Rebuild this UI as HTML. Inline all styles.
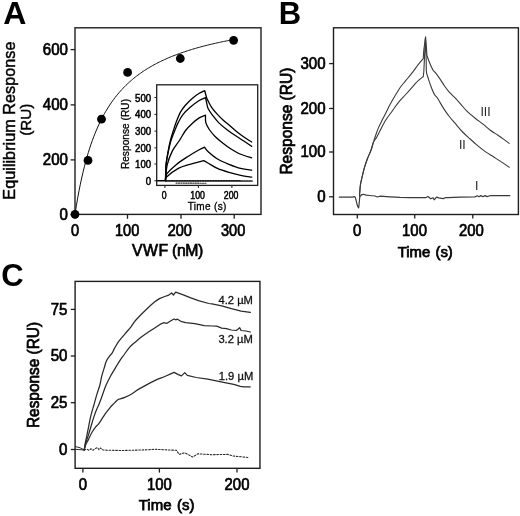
<!DOCTYPE html>
<html><head><meta charset="utf-8"><style>
html,body{margin:0;padding:0;background:#fff;width:520px;height:516px;overflow:hidden}
svg{display:block;filter:blur(0.3px)}
text{font-family:"Liberation Sans", sans-serif}
</style></head><body>
<svg width="520" height="516" viewBox="0 0 520 516">
<rect width="520" height="516" fill="#fff"/>
<text x="3.2" y="23.8" font-size="32" font-weight="bold" text-anchor="start" fill="#000">A</text>
<rect x="75" y="27.8" width="186" height="186.6" fill="none" stroke="#1e1e1e" stroke-width="1.4"/>
<line x1="70.6" y1="214.70000000000002" x2="75" y2="214.70000000000002" stroke="#1e1e1e" stroke-width="1.3"/>
<text transform="translate(67.9 219.9) scale(0.93 1)" font-size="16.2" font-weight="normal" text-anchor="end" fill="#000" stroke="#000" stroke-width="0.7">0</text>
<line x1="70.6" y1="159.9" x2="75" y2="159.9" stroke="#1e1e1e" stroke-width="1.3"/>
<text transform="translate(67.9 165.1) scale(0.93 1)" font-size="16.2" font-weight="normal" text-anchor="end" fill="#000" stroke="#000" stroke-width="0.7">200</text>
<line x1="70.6" y1="104.9" x2="75" y2="104.9" stroke="#1e1e1e" stroke-width="1.3"/>
<text transform="translate(67.9 110.1) scale(0.93 1)" font-size="16.2" font-weight="normal" text-anchor="end" fill="#000" stroke="#000" stroke-width="0.7">400</text>
<line x1="70.6" y1="49.6" x2="75" y2="49.6" stroke="#1e1e1e" stroke-width="1.3"/>
<text transform="translate(67.9 54.800000000000004) scale(0.93 1)" font-size="16.2" font-weight="normal" text-anchor="end" fill="#000" stroke="#000" stroke-width="0.7">600</text>
<line x1="75" y1="214.4" x2="75" y2="218.8" stroke="#1e1e1e" stroke-width="1.3"/>
<text transform="translate(75 235.6) scale(0.91 1)" font-size="16.0" font-weight="normal" text-anchor="middle" fill="#000" stroke="#000" stroke-width="0.7">0</text>
<line x1="127.5" y1="214.4" x2="127.5" y2="218.8" stroke="#1e1e1e" stroke-width="1.3"/>
<text transform="translate(127.1 235.6) scale(0.91 1)" font-size="16.0" font-weight="normal" text-anchor="middle" fill="#000" stroke="#000" stroke-width="0.7">100</text>
<line x1="181" y1="214.4" x2="181" y2="218.8" stroke="#1e1e1e" stroke-width="1.3"/>
<text transform="translate(179.8 235.6) scale(0.91 1)" font-size="16.0" font-weight="normal" text-anchor="middle" fill="#000" stroke="#000" stroke-width="0.7">200</text>
<line x1="234.2" y1="214.4" x2="234.2" y2="218.8" stroke="#1e1e1e" stroke-width="1.3"/>
<text transform="translate(233.1 235.6) scale(0.91 1)" font-size="16.0" font-weight="normal" text-anchor="middle" fill="#000" stroke="#000" stroke-width="0.7">300</text>
<text x="132.0" y="255.6" font-size="15.8" fill="#000" stroke="#000" stroke-width="0.7"><tspan letter-spacing="0.5">VWF</tspan><tspan dx="-0.5" letter-spacing="-0.4"> (nM)</tspan></text>
<text x="15.1" y="120.6" font-size="16.25" font-weight="normal" text-anchor="middle" fill="#000" transform="rotate(-90 15.1 120.6)" stroke="#000" stroke-width="0.45">Equilibrium Response</text>
<text x="30.6" y="119.8" font-size="15.2" font-weight="normal" text-anchor="middle" fill="#000" transform="rotate(-90 30.6 119.8)" stroke="#000" stroke-width="0.45">(RU)</text>
<path d="M75.00,214.30 L76.34,205.87 L77.68,198.10 L79.01,190.90 L80.35,184.21 L81.69,177.99 L83.03,172.19 L84.36,166.76 L85.70,161.67 L87.04,156.89 L88.38,152.39 L89.72,148.15 L91.05,144.14 L92.39,140.36 L93.73,136.77 L95.07,133.36 L96.41,130.13 L97.74,127.06 L99.08,124.13 L100.42,121.34 L101.76,118.67 L103.09,116.12 L104.43,113.69 L105.77,111.36 L107.11,109.12 L108.45,106.98 L109.78,104.92 L111.12,102.95 L112.46,101.05 L113.80,99.22 L115.13,97.46 L116.47,95.76 L117.81,94.13 L119.15,92.55 L120.49,91.03 L121.82,89.55 L123.16,88.13 L124.50,86.75 L125.84,85.42 L127.17,84.13 L128.51,82.88 L129.85,81.67 L131.19,80.50 L132.53,79.36 L133.86,78.26 L135.20,77.18 L136.54,76.14 L137.88,75.13 L139.22,74.14 L140.55,73.19 L141.89,72.25 L143.23,71.35 L144.57,70.46 L145.90,69.60 L147.24,68.77 L148.58,67.95 L149.92,67.15 L151.26,66.38 L152.59,65.62 L153.93,64.88 L155.27,64.16 L156.61,63.45 L157.94,62.76 L159.28,62.09 L160.62,61.43 L161.96,60.79 L163.30,60.16 L164.63,59.55 L165.97,58.95 L167.31,58.36 L168.65,57.78 L169.98,57.22 L171.32,56.67 L172.66,56.13 L174.00,55.60 L175.34,55.08 L176.67,54.57 L178.01,54.07 L179.35,53.59 L180.69,53.11 L182.03,52.64 L183.36,52.18 L184.70,51.72 L186.04,51.28 L187.38,50.84 L188.71,50.42 L190.05,50.00 L191.39,49.59 L192.73,49.18 L194.07,48.78 L195.40,48.39 L196.74,48.01 L198.08,47.63 L199.42,47.26 L200.75,46.90 L202.09,46.54 L203.43,46.19 L204.77,45.84 L206.11,45.50 L207.44,45.17 L208.78,44.84 L210.12,44.51 L211.46,44.19 L212.79,43.88 L214.13,43.57 L215.47,43.26 L216.81,42.96 L218.15,42.67 L219.48,42.38 L220.82,42.09 L222.16,41.81 L223.50,41.53 L224.84,41.26 L226.17,40.99 L227.51,40.72 L228.85,40.46 L230.19,40.20 L231.52,39.95 L232.86,39.69 L234.20,39.45" fill="none" stroke="#111" stroke-width="1.0" stroke-linejoin="round" stroke-linecap="round"/>
<circle cx="75" cy="214.3" r="4.4" fill="#000"/>
<circle cx="88" cy="160.4" r="4.4" fill="#000"/>
<circle cx="101.5" cy="119.2" r="4.4" fill="#000"/>
<circle cx="127.6" cy="72.4" r="4.4" fill="#000"/>
<circle cx="180.3" cy="58.5" r="4.4" fill="#000"/>
<circle cx="233.6" cy="40.3" r="4.4" fill="#000"/>
<rect x="156.7" y="84.8" width="101.0" height="100.6" fill="#fff" stroke="#1e1e1e" stroke-width="1.3"/>
<line x1="154.4" y1="180.8" x2="156.7" y2="180.8" stroke="#1e1e1e" stroke-width="1.0"/>
<text transform="translate(151.2 184.8) scale(0.93 1)" font-size="10.4" font-weight="normal" text-anchor="end" fill="#000" stroke="#000" stroke-width="0.5">0</text>
<line x1="154.4" y1="164" x2="156.7" y2="164" stroke="#1e1e1e" stroke-width="1.0"/>
<text transform="translate(151.2 168.0) scale(0.93 1)" font-size="10.4" font-weight="normal" text-anchor="end" fill="#000" stroke="#000" stroke-width="0.5">100</text>
<line x1="154.4" y1="147.9" x2="156.7" y2="147.9" stroke="#1e1e1e" stroke-width="1.0"/>
<text transform="translate(151.2 151.9) scale(0.93 1)" font-size="10.4" font-weight="normal" text-anchor="end" fill="#000" stroke="#000" stroke-width="0.5">200</text>
<line x1="154.4" y1="131.1" x2="156.7" y2="131.1" stroke="#1e1e1e" stroke-width="1.0"/>
<text transform="translate(151.2 135.1) scale(0.93 1)" font-size="10.4" font-weight="normal" text-anchor="end" fill="#000" stroke="#000" stroke-width="0.5">300</text>
<line x1="154.4" y1="114.4" x2="156.7" y2="114.4" stroke="#1e1e1e" stroke-width="1.0"/>
<text transform="translate(151.2 118.4) scale(0.93 1)" font-size="10.4" font-weight="normal" text-anchor="end" fill="#000" stroke="#000" stroke-width="0.5">400</text>
<line x1="154.4" y1="97.5" x2="156.7" y2="97.5" stroke="#1e1e1e" stroke-width="1.0"/>
<text transform="translate(151.2 101.5) scale(0.93 1)" font-size="10.4" font-weight="normal" text-anchor="end" fill="#000" stroke="#000" stroke-width="0.5">500</text>
<line x1="164.9" y1="185.4" x2="164.9" y2="188" stroke="#1e1e1e" stroke-width="1.0"/>
<text transform="translate(164.1 198.8) scale(0.86 1)" font-size="10.2" font-weight="normal" text-anchor="middle" fill="#000" stroke="#000" stroke-width="0.5">0</text>
<line x1="198.4" y1="185.4" x2="198.4" y2="188" stroke="#1e1e1e" stroke-width="1.0"/>
<text transform="translate(197.6 198.8) scale(0.86 1)" font-size="10.2" font-weight="normal" text-anchor="middle" fill="#000" stroke="#000" stroke-width="0.5">100</text>
<line x1="231.9" y1="185.4" x2="231.9" y2="188" stroke="#1e1e1e" stroke-width="1.0"/>
<text transform="translate(231.1 198.8) scale(0.86 1)" font-size="10.2" font-weight="normal" text-anchor="middle" fill="#000" stroke="#000" stroke-width="0.5">200</text>
<text x="207.2" y="209.8" font-size="10" font-weight="normal" text-anchor="middle" fill="#000" stroke="#000" stroke-width="0.3" letter-spacing="0.35">Time (s)</text>
<text x="128.6" y="134.0" font-size="10" font-weight="normal" text-anchor="middle" fill="#000" transform="rotate(-90 128.6 134.0)" stroke="#000" stroke-width="0.3" letter-spacing="0.1">Response (RU)</text>
<path d="M165.50,180.50 C165.58,177.90 165.62,169.43 166.00,164.90 C166.38,160.37 167.12,157.18 167.80,153.30 C168.48,149.42 169.17,145.40 170.10,141.60 C171.03,137.80 172.33,133.90 173.40,130.50 C174.47,127.10 175.30,124.30 176.50,121.20 C177.70,118.10 179.15,114.52 180.60,111.90 C182.05,109.28 183.27,107.73 185.20,105.50 C187.13,103.27 189.87,100.53 192.20,98.50 C194.53,96.47 197.12,94.62 199.20,93.30 C201.28,91.98 203.78,91.05 204.70,90.60 L204.70,90.60 C205.02,91.77 206.12,96.05 206.60,97.60 C207.08,99.15 206.77,98.27 207.60,99.90 C208.43,101.53 209.97,104.98 211.60,107.40 C213.23,109.82 215.45,112.27 217.40,114.40 C219.35,116.53 221.17,118.27 223.30,120.20 C225.43,122.13 227.68,123.87 230.20,126.00 C232.72,128.13 235.68,130.87 238.40,133.00 C241.12,135.13 244.28,137.30 246.50,138.80 C248.72,140.30 250.83,141.47 251.70,142.00" fill="none" stroke="#000" stroke-width="1.3" stroke-linejoin="round" stroke-linecap="round"/>
<path d="M165.50,180.50 C165.60,177.92 165.70,169.50 166.10,165.00 C166.50,160.50 167.13,157.42 167.90,153.50 C168.67,149.58 169.55,145.33 170.70,141.50 C171.85,137.67 173.53,133.68 174.80,130.50 C176.07,127.32 176.95,125.05 178.30,122.40 C179.65,119.75 180.97,117.08 182.90,114.60 C184.83,112.12 187.18,109.85 189.90,107.50 C192.62,105.15 196.60,102.15 199.20,100.50 C201.80,98.85 204.45,98.08 205.50,97.60 L205.50,97.60 C205.65,98.25 205.97,99.67 206.40,101.50 C206.83,103.33 207.03,106.25 208.10,108.60 C209.17,110.95 211.05,113.27 212.80,115.60 C214.55,117.93 216.28,120.28 218.60,122.60 C220.92,124.92 223.98,127.38 226.70,129.50 C229.42,131.62 231.98,133.35 234.90,135.30 C237.82,137.25 241.40,139.35 244.20,141.20 C247.00,143.05 250.45,145.53 251.70,146.40" fill="none" stroke="#000" stroke-width="1.3" stroke-linejoin="round" stroke-linecap="round"/>
<path d="M165.50,180.50 C165.78,177.90 166.05,169.83 167.20,164.90 C168.35,159.97 170.37,154.97 172.40,150.90 C174.43,146.83 177.20,143.90 179.40,140.50 C181.60,137.10 183.47,133.33 185.60,130.50 C187.73,127.67 189.93,125.60 192.20,123.50 C194.47,121.40 196.98,119.28 199.20,117.90 C201.42,116.52 204.45,115.65 205.50,115.20 L205.50,115.20 C205.55,116.43 205.17,120.22 205.80,122.60 C206.43,124.98 207.75,127.18 209.30,129.50 C210.85,131.82 212.77,134.17 215.10,136.50 C217.43,138.83 220.58,141.37 223.30,143.50 C226.02,145.63 228.62,147.55 231.40,149.30 C234.18,151.05 236.62,152.57 240.00,154.00 C243.38,155.43 249.75,157.25 251.70,157.90" fill="none" stroke="#000" stroke-width="1.3" stroke-linejoin="round" stroke-linecap="round"/>
<path d="M165.50,180.50 C165.68,179.45 164.87,176.80 166.60,174.20 C168.33,171.60 172.40,167.82 175.90,164.90 C179.40,161.98 183.72,159.22 187.60,156.70 C191.48,154.18 196.38,151.38 199.20,149.80 C202.02,148.22 203.62,147.63 204.50,147.20 L204.50,147.20 C205.17,148.02 206.35,150.13 208.50,152.10 C210.65,154.07 213.98,156.97 217.40,159.00 C220.82,161.03 225.12,162.73 229.00,164.30 C232.88,165.87 236.92,167.43 240.70,168.40 C244.48,169.37 249.87,169.82 251.70,170.10" fill="none" stroke="#000" stroke-width="1.3" stroke-linejoin="round" stroke-linecap="round"/>
<path d="M165.50,180.50 C165.68,179.92 164.47,179.02 166.60,177.00 C168.73,174.98 174.42,170.52 178.30,168.40 C182.18,166.28 185.65,165.60 189.90,164.30 C194.15,163.00 201.48,161.22 203.80,160.60 L203.80,160.60 C204.55,161.03 206.03,161.90 208.30,163.20 C210.57,164.50 213.95,166.87 217.40,168.40 C220.85,169.93 225.12,171.25 229.00,172.40 C232.88,173.55 236.92,174.52 240.70,175.30 C244.48,176.08 249.87,176.80 251.70,177.10" fill="none" stroke="#000" stroke-width="1.3" stroke-linejoin="round" stroke-linecap="round"/>
<path d="M157.50,180.70 L166.00,180.70" fill="none" stroke="#000" stroke-width="1.6" stroke-linejoin="round" stroke-linecap="round"/>
<path d="M166.00,180.80 L252.00,181.00" fill="none" stroke="#1a1a1a" stroke-width="1.7" stroke-linejoin="round" stroke-linecap="round" stroke-dasharray="1.4 1.2" stroke-linecap="butt"/>
<path d="M176.00,183.10 L207.00,183.20" fill="none" stroke="#333" stroke-width="1.1" stroke-linejoin="round" stroke-linecap="round" stroke-dasharray="1.2 1.2"/>
<text x="278.8" y="23.6" font-size="31" font-weight="bold" text-anchor="start" fill="#000">B</text>
<rect x="333.5" y="27.8" width="184.89999999999998" height="186.7" fill="none" stroke="#1e1e1e" stroke-width="1.4"/>
<line x1="329.1" y1="196.8" x2="333.5" y2="196.8" stroke="#1e1e1e" stroke-width="1.3"/>
<text transform="translate(325.6 202.0) scale(0.93 1)" font-size="16.2" font-weight="normal" text-anchor="end" fill="#000" stroke="#000" stroke-width="0.7">0</text>
<line x1="329.1" y1="152" x2="333.5" y2="152" stroke="#1e1e1e" stroke-width="1.3"/>
<text transform="translate(325.6 157.2) scale(0.93 1)" font-size="16.2" font-weight="normal" text-anchor="end" fill="#000" stroke="#000" stroke-width="0.7">100</text>
<line x1="329.1" y1="108.5" x2="333.5" y2="108.5" stroke="#1e1e1e" stroke-width="1.3"/>
<text transform="translate(325.6 113.7) scale(0.93 1)" font-size="16.2" font-weight="normal" text-anchor="end" fill="#000" stroke="#000" stroke-width="0.7">200</text>
<line x1="329.1" y1="63.6" x2="333.5" y2="63.6" stroke="#1e1e1e" stroke-width="1.3"/>
<text transform="translate(325.6 68.8) scale(0.93 1)" font-size="16.2" font-weight="normal" text-anchor="end" fill="#000" stroke="#000" stroke-width="0.7">300</text>
<line x1="357.3" y1="214.5" x2="357.3" y2="218.6" stroke="#1e1e1e" stroke-width="1.3"/>
<text transform="translate(357.2 235.9) scale(0.93 1)" font-size="16.0" font-weight="normal" text-anchor="middle" fill="#000" stroke="#000" stroke-width="0.7">0</text>
<line x1="414.7" y1="214.5" x2="414.7" y2="218.6" stroke="#1e1e1e" stroke-width="1.3"/>
<text transform="translate(414.5 235.9) scale(0.93 1)" font-size="16.0" font-weight="normal" text-anchor="middle" fill="#000" stroke="#000" stroke-width="0.7">100</text>
<line x1="472.8" y1="214.5" x2="472.8" y2="218.6" stroke="#1e1e1e" stroke-width="1.3"/>
<text transform="translate(471.4 235.9) scale(0.93 1)" font-size="16.0" font-weight="normal" text-anchor="middle" fill="#000" stroke="#000" stroke-width="0.7">200</text>
<text x="425.3" y="256.8" font-size="14.9" font-weight="normal" text-anchor="middle" fill="#000" stroke="#000" stroke-width="0.75" word-spacing="1.0">Time (s)</text>
<text x="291.9" y="121.1" font-size="16" font-weight="normal" text-anchor="middle" fill="#000" transform="rotate(-90 291.9 121.1)" stroke="#000" stroke-width="0.75" textLength="107" lengthAdjust="spacingAndGlyphs">Response (RU)</text>
<path d="M339.30,197.20 L352.30,197.10 L354.50,196.60 L355.40,197.60 L357.60,206.30 L358.70,207.80 L359.40,201.00 L359.80,196.50 L361.80,194.70 L363.50,194.30 L366.10,195.10 L369.60,195.50 L374.80,196.00 L377.40,197.00 L380.00,196.20 L390.00,196.80 L400.00,197.40 L410.00,197.60 L425.60,197.70 L427.90,196.50 L430.80,198.80 L433.10,197.70 L434.20,199.80 L436.50,197.10 L438.80,197.90 L443.40,198.60 L445.70,197.50 L448.00,197.70 L460.00,197.20 L475.00,196.90 L477.30,195.80 L479.00,196.70 L481.00,195.60 L483.00,196.70 L485.00,195.60 L487.00,196.60 L490.00,195.70 L509.80,195.70" fill="none" stroke="#3a3a3a" stroke-width="1.2" stroke-linejoin="round" stroke-linecap="round"/>
<path d="M359.50,196.00 C359.65,194.18 359.98,188.20 360.40,185.10 C360.82,182.00 361.35,180.23 362.00,177.40 C362.65,174.57 363.40,171.20 364.30,168.10 C365.20,165.00 366.27,161.82 367.40,158.80 C368.53,155.78 370.08,152.80 371.10,150.00 C372.12,147.20 372.75,144.42 373.50,142.00 C374.25,139.58 374.75,137.93 375.60,135.50 C376.45,133.07 377.43,130.10 378.60,127.40 C379.77,124.70 381.25,122.00 382.60,119.30 C383.95,116.60 385.47,113.67 386.70,111.20 C387.93,108.73 388.65,106.98 390.00,104.50 C391.35,102.02 393.10,99.13 394.80,96.30 C396.50,93.47 398.38,90.10 400.20,87.50 C402.02,84.90 403.43,83.50 405.70,80.70 C407.97,77.90 411.75,73.35 413.80,70.70 C415.85,68.05 416.43,66.80 418.00,64.80 C419.57,62.80 422.33,59.72 423.20,58.70 L423.8,50 L425.6,36.8 L426.3,46 L427.00,55.80 C427.43,56.97 428.58,60.38 429.60,62.80 C430.62,65.22 432.03,68.55 433.10,70.30 C434.17,72.05 434.83,71.83 436.00,73.30 C437.17,74.77 438.65,76.95 440.10,79.10 C441.55,81.25 443.17,84.03 444.70,86.20 C446.23,88.37 447.57,90.15 449.30,92.10 C451.03,94.05 453.17,95.87 455.10,97.90 C457.03,99.93 459.02,102.18 460.90,104.30 C462.78,106.42 464.02,108.28 466.40,110.60 C468.78,112.92 472.48,115.98 475.20,118.20 C477.92,120.42 480.18,121.90 482.70,123.90 C485.22,125.90 487.77,128.32 490.30,130.20 C492.83,132.08 495.58,133.63 497.90,135.20 C500.22,136.77 502.32,138.23 504.20,139.60 C506.08,140.97 508.37,142.77 509.20,143.40" fill="none" stroke="#3a3a3a" stroke-width="1.1" stroke-linejoin="round" stroke-linecap="round"/>
<path d="M359.50,196.00 C359.65,194.18 359.98,188.20 360.40,185.10 C360.82,182.00 361.35,180.23 362.00,177.40 C362.65,174.57 363.40,171.20 364.30,168.10 C365.20,165.00 366.27,161.82 367.40,158.80 C368.53,155.78 370.08,152.80 371.10,150.00 C372.12,147.20 372.58,144.08 373.50,142.00 C374.42,139.92 375.53,139.33 376.60,137.50 C377.67,135.67 378.45,133.80 379.90,131.00 C381.35,128.20 383.27,124.00 385.30,120.70 C387.33,117.40 389.83,114.33 392.10,111.20 C394.37,108.07 396.63,104.68 398.90,101.90 C401.17,99.12 403.22,97.25 405.70,94.50 C408.18,91.75 411.75,87.68 413.80,85.40 C415.85,83.12 416.43,82.25 418.00,80.80 C419.57,79.35 422.33,77.38 423.20,76.70 L423.8,72 L425.4,38 L426.1,55 L426.30,70.00 C426.37,70.55 426.33,71.78 426.70,73.30 C427.07,74.82 427.82,76.98 428.50,79.10 C429.18,81.22 429.83,83.48 430.80,86.00 C431.77,88.52 433.23,92.25 434.30,94.20 C435.37,96.15 436.23,96.30 437.20,97.70 C438.17,99.10 438.85,100.53 440.10,102.60 C441.35,104.67 443.17,107.78 444.70,110.10 C446.23,112.42 447.58,114.32 449.30,116.50 C451.02,118.68 452.78,120.62 455.00,123.20 C457.22,125.78 460.07,129.37 462.60,132.00 C465.13,134.63 467.90,136.90 470.20,139.00 C472.50,141.10 473.88,142.50 476.40,144.60 C478.92,146.70 482.35,149.50 485.30,151.60 C488.25,153.70 491.17,155.32 494.10,157.20 C497.03,159.08 500.38,161.22 502.90,162.90 C505.42,164.58 508.15,166.57 509.20,167.30" fill="none" stroke="#3a3a3a" stroke-width="1.1" stroke-linejoin="round" stroke-linecap="round"/>
<text x="485.5" y="115.8" font-size="12.3" font-weight="normal" text-anchor="middle" fill="#222">III</text>
<text x="462.3" y="148.8" font-size="12.3" font-weight="normal" text-anchor="middle" fill="#222">II</text>
<text x="476.8" y="190.3" font-size="12.3" font-weight="normal" text-anchor="middle" fill="#222">I</text>
<text x="1.3" y="286.3" font-size="31" font-weight="bold" text-anchor="start" fill="#000">C</text>
<rect x="75.1" y="281.4" width="184.85" height="186.90000000000003" fill="none" stroke="#1e1e1e" stroke-width="1.4"/>
<line x1="70.8" y1="449.5" x2="75.1" y2="449.5" stroke="#1e1e1e" stroke-width="1.3"/>
<text transform="translate(67.5 454.7) scale(0.93 1)" font-size="16.2" font-weight="normal" text-anchor="end" fill="#000" stroke="#000" stroke-width="0.7">0</text>
<line x1="70.8" y1="402.7" x2="75.1" y2="402.7" stroke="#1e1e1e" stroke-width="1.3"/>
<text transform="translate(67.5 407.9) scale(0.93 1)" font-size="16.2" font-weight="normal" text-anchor="end" fill="#000" stroke="#000" stroke-width="0.7">25</text>
<line x1="70.8" y1="356" x2="75.1" y2="356" stroke="#1e1e1e" stroke-width="1.3"/>
<text transform="translate(67.5 361.2) scale(0.93 1)" font-size="16.2" font-weight="normal" text-anchor="end" fill="#000" stroke="#000" stroke-width="0.7">50</text>
<line x1="70.8" y1="309.4" x2="75.1" y2="309.4" stroke="#1e1e1e" stroke-width="1.3"/>
<text transform="translate(67.5 314.59999999999997) scale(0.93 1)" font-size="16.2" font-weight="normal" text-anchor="end" fill="#000" stroke="#000" stroke-width="0.7">75</text>
<line x1="82.9" y1="468.3" x2="82.9" y2="472.6" stroke="#1e1e1e" stroke-width="1.3"/>
<text transform="translate(82.9 489.7) scale(0.93 1)" font-size="16.0" font-weight="normal" text-anchor="middle" fill="#000" stroke="#000" stroke-width="0.7">0</text>
<line x1="159.4" y1="468.3" x2="159.4" y2="472.6" stroke="#1e1e1e" stroke-width="1.3"/>
<text transform="translate(159.4 489.7) scale(0.93 1)" font-size="16.0" font-weight="normal" text-anchor="middle" fill="#000" stroke="#000" stroke-width="0.7">100</text>
<line x1="237" y1="468.3" x2="237" y2="472.6" stroke="#1e1e1e" stroke-width="1.3"/>
<text transform="translate(237 489.7) scale(0.93 1)" font-size="16.0" font-weight="normal" text-anchor="middle" fill="#000" stroke="#000" stroke-width="0.7">200</text>
<text x="166.6" y="510.4" font-size="15" font-weight="normal" text-anchor="middle" fill="#000" stroke="#000" stroke-width="0.75" word-spacing="1.3">Time (s)</text>
<text x="38.8" y="375.0" font-size="16" font-weight="normal" text-anchor="middle" fill="#000" transform="rotate(-90 38.8 375.0)" stroke="#000" stroke-width="0.75" textLength="106" lengthAdjust="spacingAndGlyphs">Response (RU)</text>
<path d="M84.20,450.00 C84.37,448.92 84.80,445.68 85.20,443.50 C85.60,441.32 86.07,439.52 86.60,436.90 C87.13,434.28 87.80,430.83 88.40,427.80 C89.00,424.77 89.60,421.43 90.20,418.70 C90.80,415.97 91.38,413.68 92.00,411.40 C92.62,409.12 93.07,407.92 93.90,405.00 C94.73,402.08 96.00,397.23 97.00,393.90 C98.00,390.57 99.13,387.88 99.90,385.00 C100.67,382.12 100.88,379.45 101.60,376.60 C102.32,373.75 103.40,370.52 104.20,367.90 C105.00,365.28 105.52,362.87 106.40,360.90 C107.28,358.93 108.55,357.40 109.50,356.10 C110.45,354.80 111.23,354.47 112.10,353.10 C112.97,351.73 113.53,349.93 114.70,347.90 C115.87,345.87 117.35,343.28 119.10,340.90 C120.85,338.52 123.22,335.95 125.20,333.60 C127.18,331.25 129.22,329.07 131.00,326.80 C132.78,324.53 133.40,322.85 135.90,320.00 C138.40,317.15 142.85,312.73 146.00,309.70 C149.15,306.67 152.47,303.70 154.80,301.80 C157.13,299.90 159.13,298.88 160.00,298.30 L160.00,298.30 L164.70,296.50 L168.10,295.40 L171.60,293.00 L173.40,295.00 L175.70,292.20 L183.30,294.80 L190.20,297.70 L198.40,300.60 L208.80,303.50 L212.00,303.90 L221.70,305.80 L231.40,308.70 L241.10,311.10 L250.30,312.40" fill="none" stroke="#2a2a2a" stroke-width="1.25" stroke-linejoin="round" stroke-linecap="round"/>
<path d="M84.20,450.00 C84.50,448.67 85.30,444.48 86.00,442.00 C86.70,439.52 87.55,437.77 88.40,435.10 C89.25,432.43 90.18,429.03 91.10,426.00 C92.02,422.97 92.98,419.63 93.90,416.90 C94.82,414.17 95.77,411.67 96.60,409.60 C97.43,407.53 98.13,406.35 98.90,404.50 C99.67,402.65 100.00,401.73 101.20,398.50 C102.40,395.27 104.43,389.03 106.10,385.10 C107.77,381.17 109.48,378.05 111.20,374.90 C112.92,371.75 114.80,368.82 116.40,366.20 C118.00,363.58 119.48,361.15 120.80,359.20 C122.12,357.25 122.92,356.40 124.30,354.50 C125.68,352.60 127.50,349.67 129.10,347.80 C130.70,345.93 131.97,345.03 133.90,343.30 C135.83,341.57 138.77,338.95 140.70,337.40 C142.63,335.85 143.95,335.05 145.50,334.00 C147.05,332.95 147.58,332.70 150.00,331.10 C152.42,329.50 158.33,325.52 160.00,324.40 L160.00,324.40 L163.50,322.70 L167.00,323.30 L170.50,321.00 L174.00,319.00 L175.70,319.80 L177.40,319.20 L180.90,321.30 L185.60,322.70 L194.90,323.60 L204.20,325.60 L212.00,326.00 L216.80,326.20 L221.70,328.10 L226.50,328.60 L231.40,330.00 L236.20,330.50 L238.20,329.10 L239.60,327.60 L241.10,330.50 L245.90,331.00 L250.30,332.00" fill="none" stroke="#2a2a2a" stroke-width="1.25" stroke-linejoin="round" stroke-linecap="round"/>
<path d="M84.20,450.00 C84.43,449.18 84.90,446.83 85.60,445.10 C86.30,443.37 87.33,441.73 88.40,439.60 C89.47,437.47 90.78,434.42 92.00,432.30 C93.22,430.18 94.63,428.27 95.70,426.90 C96.77,425.53 97.33,425.47 98.40,424.10 C99.47,422.73 100.88,420.52 102.10,418.70 C103.32,416.88 104.50,414.88 105.70,413.20 C106.90,411.52 108.18,409.97 109.30,408.60 C110.42,407.23 110.98,406.48 112.40,405.00 C113.82,403.52 116.53,400.70 117.80,399.70 C119.07,398.70 118.85,399.38 120.00,399.00 C121.15,398.62 122.77,398.23 124.70,397.40 C126.63,396.57 129.48,395.25 131.60,394.00 C133.72,392.75 136.43,390.58 137.40,389.90 L137.40,389.90 L143.30,386.60 L150.20,382.90 L157.20,379.40 L161.90,377.70 L166.50,375.70 L171.20,373.60 L174.10,372.40 L178.30,374.60 L181.50,375.90 L184.80,372.60 L187.30,375.40 L196.20,377.50 L207.70,379.20 L217.50,381.10 L227.30,383.10 L233.80,384.40 L240.40,386.40 L243.60,386.90 L250.20,386.90" fill="none" stroke="#2a2a2a" stroke-width="1.25" stroke-linejoin="round" stroke-linecap="round"/>
<path d="M75.50,446.60 L80.20,447.80 L84.20,450.00 L79.00,449.60 L75.50,449.30" fill="none" stroke="#2a2a2a" stroke-width="1.0" stroke-linejoin="round" stroke-linecap="round"/>
<path d="M84.20,450.00 L87.00,449.20 L89.00,450.30 L91.00,448.80 L93.00,450.20 L95.00,448.60 L97.50,447.60 L99.00,449.80 L100.50,448.00 L103.00,450.00 L107.90,450.20 L122.40,450.50 L147.00,449.80 L155.00,449.30 L176.50,450.30 L179.20,454.40 L184.60,452.80 L192.70,457.00 L198.00,453.80 L211.50,454.70 L227.70,454.40 L233.00,456.00 L249.20,457.60" fill="none" stroke="#2a2a2a" stroke-width="1.1" stroke-linejoin="round" stroke-linecap="round" stroke-dasharray="1.6 1.7" stroke-linecap="butt"/>
<text x="235.7" y="303.6" font-size="11.2" font-weight="normal" text-anchor="middle" fill="#111" stroke="#111" stroke-width="0.3">4.2 µM</text>
<text x="235.6" y="342.6" font-size="11.2" font-weight="normal" text-anchor="middle" fill="#111" stroke="#111" stroke-width="0.3">3.2 µM</text>
<text x="236" y="379.7" font-size="11.2" font-weight="normal" text-anchor="middle" fill="#111" stroke="#111" stroke-width="0.3">1.9 µM</text>
</svg>
</body></html>
